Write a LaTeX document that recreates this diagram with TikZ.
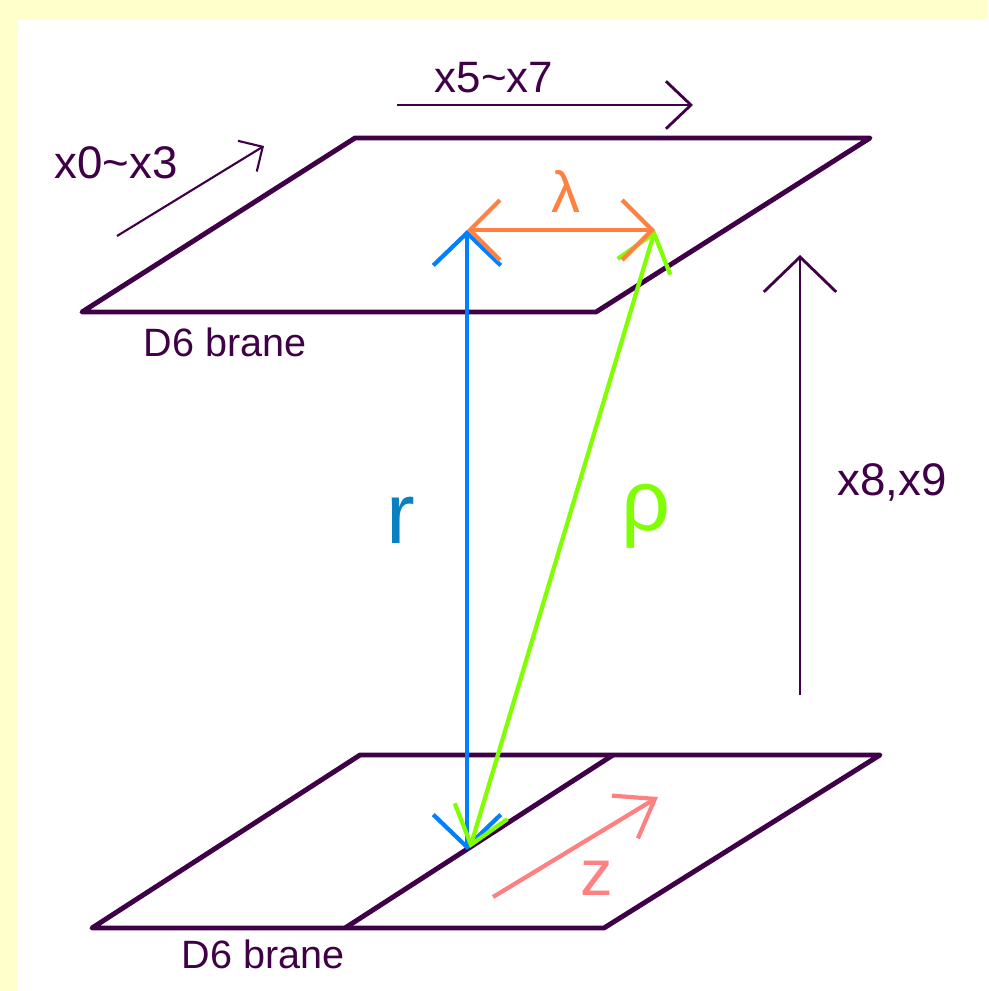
\documentclass[tikz,border=0pt]{standalone}
\usepackage{fontspec}
\setmainfont{Liberation Sans}
\usetikzlibrary{arrows.meta}
\definecolor{bgyellow}{RGB}{255,255,204}
\definecolor{brane}{RGB}{64,0,72}
\definecolor{rblue}{RGB}{0,128,255}
\definecolor{rtext}{RGB}{10,128,192}
\definecolor{lamorange}{RGB}{255,128,64}
\definecolor{rhogreen}{RGB}{128,255,0}
\definecolor{zpink}{RGB}{255,128,128}
\tikzset{
  branepath/.style={brane,line width=2.8pt,line join=round},
  lbl/.style={inner sep=0pt,anchor=base,text=brane},
  axis/.style={brane,line width=1.6pt},
}
\newcommand{\fs}[1]{\fontsize{#1}{#1}\selectfont}
\begin{document}
\begin{tikzpicture}[x=0.02cm,y=-0.02cm]
  \fill[bgyellow] (0,0) rectangle (988,991);
  \fill[white] (18,20) rectangle (988,991);
  \useasboundingbox (0,0) rectangle (988,991);
  % branes
  \draw[branepath] (82,312) -- (596,312) -- (870,138) -- (355,138) -- cycle;
  \draw[branepath] (92,928) -- (604,928) -- (880,755) -- (360,755) -- cycle;
  \draw[branepath] (345,928) -- (613,755);
  \node[lbl,font=\fs{22.5}] (d6top) at (225,356) {D6 brane};
  \node[lbl,font=\fs{22.5}] (d6bot) at (263,968) {D6 brane};
  % directions
  \coordinate (a57s) at (397,105); \coordinate (a57e) at (693,105);
  \coordinate (a03s) at (117,236); \coordinate (a03e) at (264,146);
  \coordinate (a89s) at (800,695); \coordinate (a89e) at (800,255);
  \draw[axis,-{Straight Barb[length=0.5cm,width=0.95cm]}] (a57s) -- (a57e);
  \draw[axis,line width=1.2pt,-{Straight Barb[length=0.36cm,width=0.72cm]}] (a03s) -- (a03e);
  \draw[axis,-{Straight Barb[length=0.7cm,width=1.45cm]}] (a89s) -- (a89e);
  \node[lbl,font=\fs{25}] (l57) at (494,92) {x5\textasciitilde x7};
  \node[lbl,font=\fs{26}] (l03) at (116,178) {x0\textasciitilde x3};
  \node[lbl,font=\fs{26}] (l89) at (892,495) {x8,x9};
  % distances
  \coordinate (rtop) at (467,230); \coordinate (rbot) at (467,850);
  \coordinate (lamr) at (655,230); \coordinate (rhob) at (470,848);
  \coordinate (zs) at (493,897); \coordinate (ze) at (658,797);
  \draw[rblue,line width=2.4pt,{Straight Barb[length=0.65cm,width=1.35cm]}-{Straight Barb[length=0.65cm,width=1.35cm]}] (rbot) -- (rtop);
  \draw[rhogreen,line width=2.4pt,{Straight Barb[length=0.7cm,width=1.1cm]}-{Straight Barb[length=0.7cm,width=1.1cm]}] (rhob) -- (lamr);
  \draw[lamorange,line width=2.4pt,{Straight Barb[length=0.6cm,width=1.2cm]}-{Straight Barb[length=0.6cm,width=1.2cm]}] (rtop) -- (lamr);
  \draw[zpink,line width=2.4pt,-{Straight Barb[length=0.7cm,width=1.0cm]}] (zs) -- (ze);
  \node[lbl,text=rtext,font=\fs{49}] (rlab) at (401,543) {r};
  \node[lbl,text=rhogreen,font=\fs{49}] (rholab) at (646,530) {ρ};
  \node[lbl,text=lamorange,font=\fs{33}] (lamlab) at (566,212) {λ};
  \node[lbl,text=zpink,font=\fs{37}] (zlab) at (597,895) {z};
\end{tikzpicture}
\end{document}
